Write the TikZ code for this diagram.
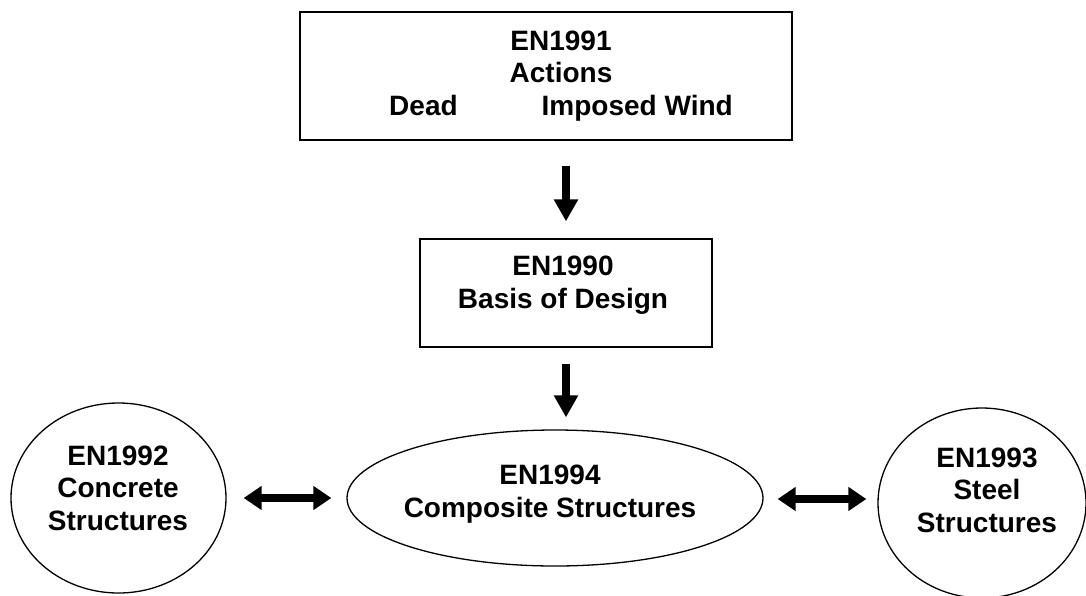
\documentclass[tikz,border=0pt]{standalone}
\usepackage{fontspec}
\setmainfont{Liberation Sans}
\usetikzlibrary{shapes.geometric,arrows.meta}
\begin{document}
\begin{tikzpicture}[x=1pt,y=-1pt,
  outline/.style={draw=black,line width=1.3pt,inner sep=0pt},
  boxshape/.style={outline,rectangle},
  ellshape/.style={outline,ellipse},
  txt/.style={font=\fontsize{28}{32.5}\selectfont\bfseries,align=center,inner sep=0pt},
  fat/.style={line width=8pt,-{Triangle[width=23pt,length=22pt]}},
  fatboth/.style={line width=8pt,{Triangle[width=23pt,length=18pt]}-{Triangle[width=23pt,length=18pt]}}
]
\useasboundingbox (0,0) rectangle (1086,595);
% shapes
\node[boxshape,minimum width=492pt,minimum height=128pt] (top) at (546,76) {};
\node[boxshape,minimum width=292pt,minimum height=108pt] (mid) at (566,293) {};
\node[ellshape,minimum width=416pt,minimum height=136pt] (comp) at (555,498) {};
\node[ellshape,minimum width=215pt,minimum height=190pt] (conc) at (118.5,498) {};
\node[ellshape,minimum width=208pt,minimum height=190pt] (steel) at (982,503) {};
% texts
\node[txt] (toptxt) at (561,76) {EN1991\\Actions\\Dead\hspace{84pt}Imposed Wind};
\node[txt] (midtxt) at (563,285) {EN1990\\Basis of Design};
\node[txt] (comptxt) at (550,494) {EN1994\\Composite Structures};
\node[txt] (conctxt) at (118,488) {EN1992\\Concrete\\Structures};
\node[txt] (steeltxt) at (987,490) {EN1993\\Steel\\Structures};
% connectors
\draw[fat,shorten <=25pt,shorten >=17pt] (mid.north |- top.south) -- (mid.north);
\draw[fat,shorten <=16pt,shorten >=12pt] (mid.south) -- (mid.south |- comp.north);
\draw[fatboth,shorten <=17pt,shorten >=15pt] (conc.east) -- (comp.west);
\draw[fatboth,shorten <=14pt,shorten >=11pt] ([yshift=-1pt]comp.east) -- ([yshift=-1pt]comp.east -| steel.west);
\end{tikzpicture}
\end{document}
